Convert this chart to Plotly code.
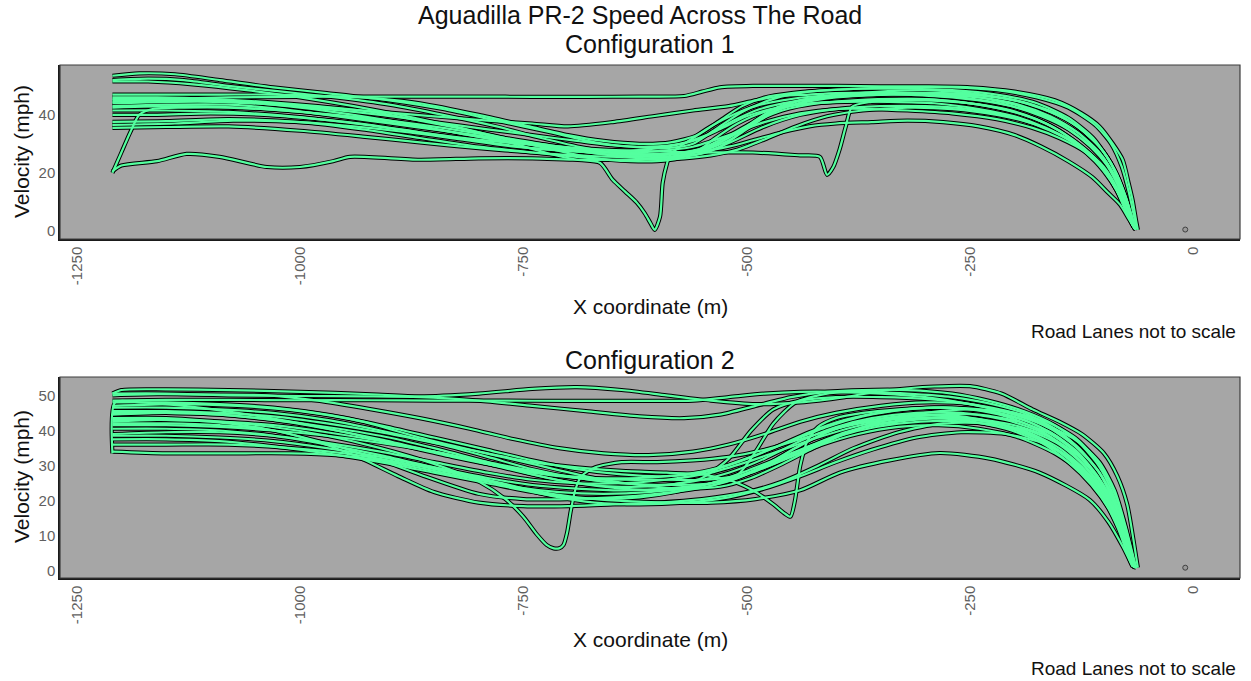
import plotly.graph_objects as go

# ---------------- Configuration 1 : vehicle runs (x [m], speed [mph]) ----------------
cfg1_run01 = [(-1210,53.5),(-1180,54.3),(-1140,54),(-1090,52),(-1030,49.5),(-970,47.5),(-900,45),(-840,42),(-780,38),(-720,34),(-670,30.5),(-630,29),(-590,28.5),(-560,30),(-535,35),(-505,41),(-470,45.5),(-430,48),(-380,49),(-320,49.5),(-270,49.5),(-220,48.5),(-175,46),(-140,42.5),(-110,36.5),(-92,30),(-80,22),(-72,13),(-66,4.5),(-63,0.5)]
cfg1_run02 = [(-1210,52),(-1170,52.5),(-1130,52),(-1080,50),(-1020,48),(-960,46),(-900,43.5),(-840,40),(-780,36),(-730,32),(-680,28.5),(-640,26.5),(-600,26),(-570,27),(-540,29),(-510,34),(-480,40),(-440,44),(-400,46),(-350,47),(-300,47.5),(-250,46.5),(-200,43.5),(-160,39),(-130,34),(-105,27),(-88,19),(-76,10),(-68,3),(-64,0.5)]
cfg1_run03 = [(-1210,46),(-1160,46),(-1100,45.5),(-1040,44.5),(-980,43),(-920,41),(-866,38),(-800,34),(-740,30),(-690,27.5),(-640,26),(-600,25.5),(-560,26),(-530,29),(-500,35),(-470,41),(-440,45),(-400,47),(-350,48),(-300,48.5),(-250,47.5),(-200,45),(-160,41),(-130,36),(-105,29),(-88,21),(-76,12),(-68,4),(-64,0.5)]
cfg1_run04 = [(-1210,45),(-1150,45.5),(-1080,46),(-1000,46.2),(-920,46.3),(-866,46.3),(-800,46.3),(-740,46.2),(-680,46.2),(-620,46.3),(-570,46.5),(-550,48),(-530,49.5),(-490,50),(-440,50),(-400,50),(-350,49.8),(-300,49.8),(-250,49.5),(-200,48),(-155,45),(-125,40.5),(-105,36),(-90,30),(-79,24.5),(-72,16),(-68,10.7),(-64,3.5),(-62,0.3)]
cfg1_run05 = [(-1210,44),(-1150,44.5),(-1090,44.5),(-1030,43.5),(-970,42),(-910,40),(-850,37.5),(-790,35),(-740,33),(-690,31),(-650,29.5),(-610,29),(-575,30),(-545,33),(-515,38),(-485,42),(-450,44.5),(-410,46),(-360,47),(-310,47),(-260,46),(-210,43.5),(-170,39.5),(-140,35),(-115,29),(-95,22),(-80,14),(-71,6),(-66,1.5),(-64,0.5)]
cfg1_run06 = [(-1210,43),(-1150,43.5),(-1080,43.5),(-1020,42),(-960,39.5),(-900,37),(-840,34.5),(-780,32),(-720,29.5),(-670,27.5),(-630,26.5),(-590,26.5),(-555,28),(-525,32),(-495,37),(-460,41.5),(-420,44),(-380,45),(-330,45.5),(-280,45),(-230,43),(-190,40),(-155,35.5),(-125,29),(-100,22),(-84,14),(-73,6),(-67,2),(-64,0.5)]
cfg1_run07 = [(-1210,42.5),(-1140,43),(-1070,42.5),(-1000,41),(-940,39),(-880,36.5),(-820,33.5),(-760,30.5),(-700,28),(-650,26),(-610,25),(-575,25.5),(-545,27),(-515,31),(-480,36),(-440,40),(-400,42),(-350,43),(-300,43),(-250,42),(-200,39),(-160,34.5),(-130,29.5),(-105,23),(-87,15),(-75,7),(-68,2),(-65,0.5)]
cfg1_run08 = [(-1210,37.6),(-1150,37.8),(-1080,38.5),(-1000,37.5),(-930,35),(-866,32),(-800,29),(-740,27),(-690,25.5),(-650,24.5),(-610,24.5),(-570,25),(-540,26),(-510,28),(-480,31.5),(-445,36),(-410,39.5),(-370,41.5),(-320,42.5),(-270,42),(-220,40),(-180,37),(-145,32.5),(-118,27),(-98,20),(-84,13),(-74,6),(-68,2),(-65,0.5)]
cfg1_run09 = [(-1210,36.5),(-1140,37),(-1075,38),(-1000,37.5),(-940,36),(-880,34),(-820,31.5),(-760,29),(-700,27.5),(-650,27),(-600,27.5),(-560,29),(-520,33),(-480,37.5),(-440,40.5),(-400,42),(-360,42),(-320,41.5),(-270,40.5),(-220,38.5),(-180,35.5),(-150,32),(-120,27),(-100,21),(-86,14),(-76,7),(-69,2.5),(-65,0.5)]
cfg1_run10 = [(-1210,35.5),(-1150,35.8),(-1080,36),(-1000,34.5),(-930,32.5),(-866,30.5),(-800,28.5),(-740,27),(-690,26),(-640,25.5),(-600,26),(-560,27),(-520,29),(-490,31.5),(-460,34),(-430,36),(-400,37),(-360,37.5),(-320,38),(-280,37.5),(-240,36),(-200,33),(-170,29),(-140,24),(-113,18.5),(-95,13),(-82,9),(-72,4),(-66,1)]
cfg1_run11 = [(-1210,40),(-1160,40),(-1100,40.5),(-1040,40),(-980,38.5),(-920,36.5),(-866,34),(-800,31),(-740,28.5),(-690,27.5),(-640,27.5),(-600,28.5),(-560,31),(-530,35),(-500,39.5),(-465,42.5),(-430,44),(-390,44.5),(-340,44.5),(-290,44),(-240,42),(-200,39.5),(-165,35.5),(-135,30.5),(-110,24),(-92,17),(-79,10),(-70,3.5),(-65,0.5)]
cfg1_run12 = [(-1210,20),(-1200,27),(-1190,34),(-1180,40),(-1165,42),(-1130,42.5),(-1080,42.5),(-1020,41.5),(-960,40),(-900,38),(-840,35.5),(-780,32.5),(-720,29.5),(-670,27.5),(-630,26.5),(-595,26.5),(-560,27.5),(-530,30.5),(-500,35.5),(-470,41),(-430,45),(-390,46.5),(-340,47),(-290,47),(-240,46),(-195,43.5),(-160,39.5),(-130,34),(-106,27),(-89,19),(-77,10),(-69,3),(-65,0.5)]
cfg1_run13 = [(-1210,20.5),(-1200,22.5),(-1160,24),(-1127,26.5),(-1090,25.5),(-1037,22),(-1000,22),(-963,24),(-944,25.5),(-866,24.5),(-800,25),(-740,25),(-690,24.5),(-650,24.5),(-610,25),(-575,26),(-545,28),(-515,32),(-490,38),(-470,42),(-440,45),(-400,46.5),(-350,47.5),(-300,47.5),(-250,47),(-200,45),(-160,41),(-130,36),(-105,29),(-88,21),(-76,12),(-68,4),(-64,0.5)]
cfg1_run14 = [(-1210,44.5),(-1140,45),(-1070,44.5),(-1000,42.5),(-940,40),(-880,37),(-820,33.5),(-760,30),(-720,26.5),(-690,24.5),(-664,23.4),(-650,17.6),(-636,13.5),(-623,9.7),(-614,6),(-608,2.8),(-603,0.3),(-597,4.8),(-594,16.5),(-589,23.4),(-586,26),(-575,29),(-560,32),(-540,36),(-515,40),(-490,43),(-460,45),(-420,46.5),(-380,47),(-330,47.5),(-280,47.5),(-230,46.5),(-185,44),(-150,40),(-122,34),(-100,27),(-85,19),(-74,10),(-67,3),(-64,0.5)]
cfg1_run15 = [(-1210,41.5),(-1150,41.5),(-1080,41),(-1010,39.5),(-950,37.5),(-890,35),(-830,32.5),(-770,30.5),(-710,29),(-660,28),(-610,27.5),(-560,27),(-493,27),(-440,26),(-418,25.5),(-410,19.3),(-403,22),(-396,28),(-389,36),(-382,42.8),(-360,44.5),(-320,45.5),(-280,45),(-240,43.5),(-200,41),(-165,37),(-135,31.5),(-110,25),(-92,18),(-79,10),(-70,3.5),(-65,0.5)]
cfg1_run16 = [(-1210,47),(-1150,47),(-1090,47),(-1030,47),(-970,46.5),(-910,45.5),(-866,44),(-800,40),(-743,36),(-700,33),(-660,31),(-620,30),(-585,30.5),(-555,33),(-530,38),(-505,43),(-480,46),(-450,47.5),(-410,48.5),(-370,49),(-320,49),(-270,48.5),(-220,47),(-175,44),(-140,39),(-112,32),(-92,23),(-79,13),(-70,4.5),(-65,0.5)]
cfg1_run17 = [(-1210,45.5),(-1150,45.5),(-1090,45),(-1030,44),(-970,42.5),(-910,41),(-850,39.5),(-790,38),(-740,37),(-700,36),(-650,37.5),(-605,39.5),(-560,41.5),(-520,43),(-490,45),(-460,46.5),(-430,47),(-400,47.5),(-360,47.5),(-320,47),(-270,46),(-220,44),(-180,41),(-150,37),(-122,31),(-100,24),(-85,16),(-74,8),(-67,2),(-64,0.5)]
cfg1_run18 = [(-1210,51.5),(-1170,51.5),(-1120,50.5),(-1060,48.5),(-1000,46),(-940,43),(-880,39.5),(-820,35.5),(-760,31),(-710,27.5),(-670,25),(-630,24),(-600,24),(-575,25),(-555,27.5),(-535,32),(-510,37),(-480,41),(-440,43.5),(-400,44.5),(-350,45),(-300,45),(-250,44),(-210,42),(-175,38.5),(-145,33.5),(-118,27),(-98,20),(-84,13),(-74,6),(-67,1.5),(-64,0.5)]

cfg1_runs = [cfg1_run01, cfg1_run02, cfg1_run03, cfg1_run04, cfg1_run05, cfg1_run06,
             cfg1_run07, cfg1_run08, cfg1_run09, cfg1_run10, cfg1_run11, cfg1_run12,
             cfg1_run13, cfg1_run14, cfg1_run15, cfg1_run16, cfg1_run17, cfg1_run18]

# ---------------- Configuration 2 : vehicle runs (x [m], speed [mph]) ----------------
cfg2_run01 = [(-1210,50.5),(-1200,51.5),(-1150,51.7),(-1080,51.5),(-1000,51),(-920,50.3),(-866,49.7),(-800,50.5),(-740,51.8),(-690,52.3),(-640,51.5),(-590,50),(-540,48.5),(-490,47.5),(-440,48),(-390,49.5),(-340,51.5),(-290,52.5),(-250,52.6),(-215,50.5),(-180,46),(-150,42.5),(-125,39),(-100,33.5),(-85,27),(-74,19),(-67,9),(-63,2.5),(-62,1)]
cfg2_run02 = [(-1210,48.5),(-1150,48.7),(-1080,48.7),(-1000,48.6),(-920,48.6),(-850,48.5),(-780,48.5),(-700,48.4),(-620,48.4),(-560,48.5),(-520,49.5),(-480,50.5),(-440,51),(-400,51),(-350,50.5),(-300,49.5),(-250,47.5),(-200,44.5),(-160,41),(-130,37),(-105,31),(-88,23),(-76,13),(-68,5),(-64,1)]
cfg2_run03 = [(-1210,50),(-1160,50.3),(-1100,50.2),(-1037,50),(-980,48.5),(-920,46),(-866,43.5),(-810,40.5),(-760,37.5),(-710,35),(-660,33.5),(-610,33),(-560,34),(-520,36),(-480,39),(-440,42.5),(-400,45),(-350,47),(-300,48),(-250,47.5),(-200,45),(-160,41),(-130,35.5),(-105,28),(-88,19),(-76,10),(-68,3),(-64,1)]
cfg2_run04 = [(-1210,48),(-1150,48),(-1090,47.5),(-1030,46.5),(-970,44.5),(-910,41.5),(-850,38),(-790,34.5),(-740,31.5),(-690,29),(-640,27.5),(-590,27),(-550,28),(-510,31),(-470,35),(-430,39.5),(-390,43),(-340,45.5),(-290,46.5),(-240,46),(-195,43.5),(-160,39.5),(-130,34),(-107,27),(-90,19.5),(-78,11),(-69,4),(-64,1)]
cfg2_run05 = [(-1210,46.5),(-1150,46.5),(-1090,46),(-1030,45),(-970,43),(-910,40),(-850,36.5),(-790,32.5),(-740,29),(-690,26.5),(-640,25),(-600,24.5),(-560,25.5),(-520,28),(-480,32),(-440,37),(-400,41),(-360,43.5),(-310,45),(-260,45),(-210,43),(-170,39.5),(-140,34.5),(-115,28),(-95,21),(-81,13),(-71,5),(-65,1)]
cfg2_run06 = [(-1210,44.5),(-1150,45),(-1090,44.5),(-1030,43),(-970,40.5),(-910,37.5),(-850,34),(-790,30.5),(-740,27.5),(-690,25),(-640,23.5),(-590,23),(-545,24),(-505,27),(-470,31.5),(-435,36.5),(-400,40.5),(-360,43),(-310,44.5),(-260,44),(-210,41.5),(-170,37.5),(-138,32),(-112,25.5),(-93,18.5),(-80,11),(-70,4),(-65,1)]
cfg2_run07 = [(-1210,42.5),(-1160,43),(-1100,42.5),(-1040,40.5),(-980,37),(-920,32.5),(-866,27.5),(-800,22),(-750,20.5),(-700,20.5),(-650,21),(-600,22),(-555,23.5),(-515,26),(-480,30),(-445,35),(-410,39.5),(-370,42.5),(-320,44),(-270,44),(-220,42),(-180,38.5),(-148,33.5),(-120,27),(-98,20),(-83,12.5),(-72,5),(-66,1)]
cfg2_run08 = [(-1210,41.5),(-1150,41.5),(-1090,41),(-1030,40),(-970,38.5),(-910,36.5),(-850,34),(-790,31),(-740,28.5),(-690,26.5),(-640,25),(-590,24.5),(-540,25),(-500,27.5),(-465,31),(-430,35),(-395,38.5),(-355,41),(-305,42.5),(-255,42.5),(-205,40.5),(-165,36.5),(-135,31),(-110,24.5),(-91,17.5),(-79,10.5),(-70,4),(-65,1)]
cfg2_run09 = [(-1210,39),(-1150,39.5),(-1090,39.5),(-1030,38.5),(-970,36.5),(-910,34),(-850,31),(-790,28),(-740,26),(-690,25),(-640,25),(-590,26),(-540,28),(-500,31),(-460,34.5),(-420,38),(-380,41),(-340,43),(-290,44.5),(-240,44.5),(-195,42.5),(-160,39),(-130,33.5),(-106,26.5),(-89,19),(-77,11),(-69,4),(-64,1)]
cfg2_run10 = [(-1210,37.5),(-1150,37.5),(-1090,37),(-1030,35.5),(-970,33.5),(-910,31),(-850,28),(-790,25),(-740,22.5),(-700,21),(-660,20.5),(-620,21),(-580,22.5),(-540,25),(-500,28.5),(-460,32.5),(-420,36.5),(-380,40),(-330,42.5),(-280,43.5),(-230,42.5),(-185,39.5),(-150,35),(-122,29),(-100,22),(-85,15),(-74,7.5),(-67,2.5),(-64,1)]
cfg2_run11 = [(-1210,34),(-1150,33.5),(-1080,33.5),(-1010,33.5),(-960,33),(-910,31.5),(-860,29),(-810,26.5),(-760,24),(-710,22.5),(-660,22),(-610,22.5),(-560,24),(-510,27),(-470,31),(-430,35.5),(-390,39.5),(-350,42),(-300,43.5),(-250,43.5),(-200,41.5),(-160,38),(-130,33),(-106,26),(-89,18.5),(-77,10.5),(-69,4),(-64,1)]
cfg2_run12 = [(-1210,33.5),(-1207,48),(-1180,48),(-1130,47),(-1070,45),(-1010,42.5),(-950,39.5),(-890,36),(-830,32.5),(-770,29.5),(-720,27.5),(-670,26.5),(-620,26.5),(-570,27.5),(-530,29.5),(-490,33),(-450,37),(-410,41),(-370,44),(-320,46),(-270,46.5),(-220,45),(-180,42),(-148,37.5),(-120,31),(-99,23.5),(-84,15),(-73,7),(-67,2.5),(-64,1)]
cfg2_run13 = [(-1210,43.5),(-1150,43.5),(-1090,42.5),(-1030,41),(-970,38.5),(-910,35),(-850,30.5),(-800,25.5),(-770,20.5),(-750,15.5),(-735,10.5),(-724,7.5),(-716,6.5),(-710,6.5),(-705,7.5),(-701,11),(-697,17),(-692,23),(-685,27),(-670,29.5),(-640,31),(-600,31),(-560,31.5),(-520,32.5),(-480,34.5),(-440,37.5),(-400,40.5),(-360,42.5),(-310,43.5),(-260,43),(-210,40.5),(-170,36.5),(-140,31),(-114,24.5),(-94,17.5),(-80,10),(-70,3.5),(-65,1)]
cfg2_run14 = [(-1210,45.5),(-1150,45.5),(-1090,45),(-1030,44),(-970,42),(-910,39.5),(-850,36.5),(-790,33.5),(-740,31),(-690,29.5),(-640,28.5),(-590,28),(-550,27.5),(-515,25.5),(-490,22.5),(-470,19),(-458,16.5),(-451,15.5),(-446,20),(-440,30),(-432,37),(-420,41),(-400,43.5),(-370,45),(-330,46),(-290,46.5),(-250,46),(-210,44),(-175,40.5),(-145,35.5),(-120,29.5),(-100,22.5),(-85,14.5),(-74,7),(-67,2),(-64,1)]
cfg2_run15 = [(-1210,40.5),(-1150,40.5),(-1090,40),(-1030,38.5),(-970,36),(-910,33),(-850,29.5),(-790,26),(-740,23),(-690,21),(-640,20),(-590,19.5),(-540,19.5),(-490,20.5),(-440,23),(-396,28),(-340,31.5),(-284,33.6),(-228,32),(-172,28),(-116,20.3),(-95,14),(-79,7),(-68,1.3)]
cfg2_run16 = [(-1210,47),(-1140,47.5),(-1070,47),(-1000,45.5),(-930,42.5),(-866,38),(-800,34),(-740,30.5),(-680,27),(-620,24.5),(-570,23.5),(-530,24),(-495,26.5),(-460,30.5),(-425,35),(-390,39),(-350,42.5),(-300,45),(-250,46),(-200,45),(-160,42),(-130,37.5),(-105,30.5),(-88,22),(-76,12.5),(-68,4.5),(-64,1)]
cfg2_run17 = [(-1210,50.5),(-1150,50.5),(-1080,50),(-1000,49.8),(-930,49.7),(-866,49.5),(-800,48.5),(-740,47),(-680,45.5),(-620,44),(-570,43.5),(-530,44.5),(-490,47),(-450,49.5),(-410,51),(-370,51.5),(-320,51.5),(-270,50.5),(-230,48.5),(-190,45.5),(-155,41.5),(-128,36.5),(-106,30),(-90,22),(-78,13),(-70,5),(-65,1)]
cfg2_run18 = [(-1210,42),(-1150,42),(-1090,41.5),(-1040,40.5),(-990,37.5),(-940,33),(-890,27),(-850,22.5),(-800,19.5),(-750,18.5),(-700,18.5),(-650,19),(-600,19.5),(-550,20.5),(-500,22.5),(-460,25.5),(-420,30),(-380,35),(-330,39.5),(-280,42),(-230,42),(-185,40),(-150,36),(-122,30),(-100,23),(-85,15.5),(-74,7.5),(-67,2.5),(-64,1)]
cfg2_run19 = [(-1210,45),(-1150,45),(-1090,44.5),(-1030,43),(-970,41),(-910,38.5),(-850,35),(-790,31),(-740,27.5),(-690,25),(-640,24),(-590,24.5),(-550,26.5),(-520,32),(-495,40),(-470,46),(-440,48.5),(-400,49.5),(-350,49.5),(-300,49),(-250,47.5),(-200,44.5),(-160,40.5),(-130,35),(-105,28),(-88,20),(-76,11),(-68,4),(-64,1)]
cfg2_run20 = [(-1210,43),(-1150,43),(-1090,42.5),(-1030,41.5),(-970,39.5),(-910,37),(-850,34),(-790,30.5),(-740,28),(-690,26.5),(-640,26),(-590,26),(-545,26),(-510,27.5),(-490,34),(-470,42),(-445,48),(-410,50.5),(-370,51),(-320,50.5),(-270,49.5),(-225,47.5),(-185,44.5),(-152,40),(-125,34),(-103,27),(-87,18.5),(-76,10),(-68,3.5),(-64,1)]
cfg2_run21 = [(-1210,36),(-1150,36),(-1080,36),(-1010,35),(-950,33.5),(-890,31),(-830,28),(-770,24.5),(-720,21.5),(-670,19.5),(-620,19),(-570,19.5),(-520,21),(-480,23.5),(-440,27),(-400,31),(-360,34.5),(-310,38),(-260,39.5),(-210,39),(-170,36.5),(-140,32.5),(-115,27),(-96,20.5),(-82,13),(-72,5.5),(-66,1)]
cfg2_run22 = [(-1210,38.5),(-1150,38.5),(-1090,38),(-1030,37),(-970,35),(-910,32.5),(-850,29.5),(-790,26.5),(-740,24.5),(-690,23.5),(-640,23),(-590,23.5),(-540,25),(-495,28),(-455,32),(-415,36),(-375,39),(-330,41),(-285,41.5),(-240,40.5),(-195,38),(-155,33.5),(-125,28),(-100,20),(-84,12),(-74,5),(-68,1.5),(-64,1)]

cfg2_runs = [cfg2_run01, cfg2_run02, cfg2_run03, cfg2_run04, cfg2_run05, cfg2_run06,
             cfg2_run07, cfg2_run08, cfg2_run09, cfg2_run10, cfg2_run11, cfg2_run12,
             cfg2_run13, cfg2_run14, cfg2_run15, cfg2_run16, cfg2_run17, cfg2_run18,
             cfg2_run19, cfg2_run20, cfg2_run21, cfg2_run22]

# stop-line reference point drawn in each panel
cfg1_stop_point = (-9, 0.4)
cfg2_stop_point = (-9, 1.0)

x_tick_values = [-1250, -1000, -750, -500, -250, 0]
cfg1_y_ticks = [0, 20, 40]
cfg2_y_ticks = [0, 10, 20, 30, 40, 50]

# ---------------- styling ----------------
FONT = "Liberation Sans, Arial, sans-serif"
PANEL_BG = "#A6A6A6"
TRACE_GREEN = "#54FF9F"
OUTLINE = "#000000"
TICK_GREY = "#5f5f5f"

fig = go.Figure()


def add_panel(runs, stop_point, xa, ya):
    # black underlay first for every run, then the green core on top
    for width, colour in ((4.2, OUTLINE), (2.2, TRACE_GREEN)):
        for run in runs:
            xs = [p[0] for p in run]
            ys = [p[1] for p in run]
            fig.add_trace(go.Scatter(
                x=xs, y=ys, mode="lines", xaxis=xa, yaxis=ya,
                line=dict(color=colour, width=width, shape="spline", smoothing=0.7),
                hoverinfo="skip", showlegend=False))
    fig.add_trace(go.Scatter(
        x=[stop_point[0]], y=[stop_point[1]], mode="markers", xaxis=xa, yaxis=ya,
        marker=dict(size=5, color="#9a9a9a", line=dict(color="#404040", width=1)),
        hoverinfo="skip", showlegend=False))


add_panel(cfg1_runs, cfg1_stop_point, "x", "y")
add_panel(cfg2_runs, cfg2_stop_point, "x2", "y2")

x_common = dict(
    range=[-1268.7, 52.3], tickvals=x_tick_values, ticktext=[str(v) for v in x_tick_values],
    tickangle=-90, showgrid=False, zeroline=False, ticks="",
    showline=True, linecolor="#1a1a1a", linewidth=1.5,
    tickfont=dict(family=FONT, size=15, color=TICK_GREY),
)
y_common = dict(
    showgrid=False, zeroline=False, ticks="",
    showline=True, linecolor="#1a1a1a", linewidth=1.5,
    tickfont=dict(family=FONT, size=15, color=TICK_GREY),
)

top_domain = [0.6608, 1.0]
bottom_domain = [0.0, 0.3918]

fig.update_layout(
    width=1251, height=681,
    margin=dict(l=60, r=11, t=65, b=103),
    paper_bgcolor="white", plot_bgcolor=PANEL_BG,
    showlegend=False,
    xaxis=dict(x_common, anchor="y", domain=[0, 1]),
    yaxis=dict(y_common, anchor="x", domain=top_domain, range=[-2.86, 57.2],
               tickvals=cfg1_y_ticks),
    xaxis2=dict(x_common, anchor="y2", domain=[0, 1]),
    yaxis2=dict(y_common, anchor="x2", domain=bottom_domain, range=[-1.93, 55.2],
                tickvals=cfg2_y_ticks),
)

# panel borders
for xd, yd in (("x domain", "y domain"), ("x2 domain", "y2 domain")):
    fig.add_shape(type="rect", xref=xd, yref=yd, x0=0, y0=0, x1=1, y1=1,
                  line=dict(color="#3c3c3c", width=1.2), fillcolor="rgba(0,0,0,0)",
                  layer="above")


def paper_x(px):
    return (px - 60) / 1180.0


def paper_y(py):
    return (578 - py) / 513.0


texts = [
    ("Aguadilla PR-2 Speed Across The Road", paper_x(640), paper_y(15), 25, "center", 0),
    ("Configuration 1", paper_x(650), paper_y(44.5), 25, "center", 0),
    ("X coordinate (m)", paper_x(650), paper_y(306), 21, "center", 0),
    ("Road Lanes not to scale", paper_x(1238), paper_y(331), 19, "right", 0),
    ("Configuration 2", paper_x(650), paper_y(360), 25, "center", 0),
    ("X coordinate (m)", paper_x(650), paper_y(640), 21, "center", 0),
    ("Road Lanes not to scale", paper_x(1238), paper_y(668), 19, "right", 0),
    ("Velocity (mph)", paper_x(21), paper_y(152), 21, "center", -90),
    ("Velocity (mph)", paper_x(21), paper_y(477), 21, "center", -90),
]
for txt, xp, yp, size, anchor, ang in texts:
    fig.add_annotation(text=txt, x=xp, y=yp, xref="paper", yref="paper",
                       xanchor=anchor, yanchor="middle", showarrow=False,
                       textangle=ang, font=dict(family=FONT, size=size, color="#111111"))

fig.write_html("out.html")
